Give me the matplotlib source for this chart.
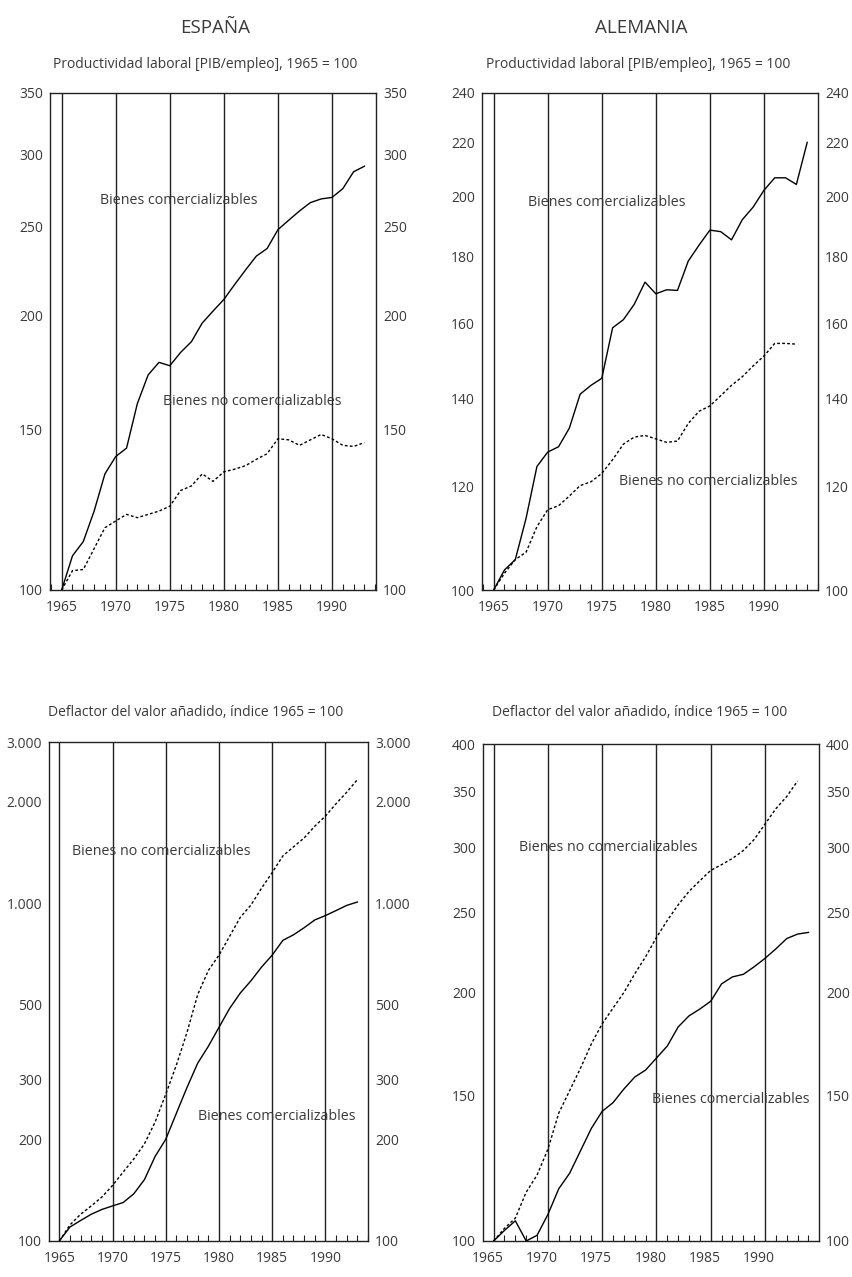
import matplotlib
matplotlib.use('Agg')
import matplotlib.pyplot as plt
from matplotlib.ticker import FixedLocator, FixedFormatter, MultipleLocator, NullFormatter
from matplotlib.transforms import ScaledTranslation

plt.rcParams['font.family'] = ['Open Sans', 'DejaVu Sans']

W, H = 853, 1277
TXT = '#3a3a3a'

years_es = list(range(1965, 1994))
years_de = list(range(1965, 1995))
years_de_nc = list(range(1965, 1994))

es_prod_com = [100, 109, 113, 122, 134, 140, 143, 160, 172, 177.5, 176, 182, 187, 196, 202,
               208, 216, 224, 232, 236.5, 248, 254, 260, 265.5, 268, 269, 275, 287, 291]
es_prod_nocom = [100, 105, 105.3, 111, 117, 119, 121, 120, 121, 122, 123.5, 128.5, 130, 134, 131.5,
                 134.7, 135.6, 136.8, 139, 141, 146.4, 146, 144, 146, 148, 146.4, 144, 143.6, 145]

de_prod_com = [100, 103.6, 105.5, 113.5, 124.3, 127.5, 128.7, 133, 141.2, 143.4, 145.2, 158.7, 161,
               165.4, 172, 168.5, 169.7, 169.5, 178.5, 183.6, 188.5, 188, 185.3, 192, 196.3, 202.2,
               206.7, 206.7, 204.3, 220]
de_prod_nocom = [100, 103, 105.5, 106.9, 111.8, 115.2, 116, 118, 120.2, 121, 122.8, 125.8, 129.3,
                 130.9, 131.3, 130.5, 129.7, 130, 134.1, 137, 138.3, 140.8, 143.4, 145.6, 148.4, 151,
                 154.4, 154.4, 154.2]

es_defl_com = [100, 110, 115, 120, 124, 127, 130, 138, 152, 178, 200, 239, 285, 336, 377, 429, 488,
               542, 589, 647, 702, 776, 806, 846, 892, 919, 951, 985, 1008]
es_defl_nocom = [100, 111.6, 120, 127, 135, 146, 160, 175, 194, 225, 272, 332, 415, 536, 632, 702,
                 798, 908, 987, 1108, 1232, 1380, 1468, 1560, 1690, 1810, 1970, 2130, 2320]

de_defl_com = [100, 103, 105.8, 100, 101.6, 107.7, 115.7, 120.8, 128.6, 136.9, 143.6, 147.1, 152.8,
               158, 161.1, 166.6, 172.3, 181.7, 187.4, 191, 195.2, 204.9, 208.9, 210.4, 214.9, 220,
               225.9, 232.5, 235.4, 236.5]
de_defl_nocom = [100, 103.6, 106.6, 114.6, 120.2, 129.2, 142.9, 152.1, 161.9, 173.3, 183.3, 191.5,
                 200, 210.7, 221, 233.2, 244.6, 255.4, 265.2, 273.2, 281.2, 285.7, 290.7, 297.2,
                 306.5, 320, 334, 345.5, 360.8]

xticks = [1965, 1970, 1975, 1980, 1985, 1990]

yt_es_prod = [100, 150, 200, 250, 300, 350]
yt_de_prod = [100, 120, 140, 160, 180, 200, 220, 240]
yt_es_defl = [100, 200, 300, 500, 1000, 2000, 3000]
yl_es_defl = ['100', '200', '300', '500', '1.000', '2.000', '3.000']
yt_de_defl = [100, 150, 200, 250, 300, 350, 400]

lbl_com = 'Bienes comercializables'
lbl_nocom = 'Bienes no comercializables'
sub_prod = 'Productividad laboral [PIB/empleo], 1965 = 100'
sub_defl = 'Deflactor del valor añadido, índice 1965 = 100'

fig = plt.figure(figsize=(W / 100, H / 100), dpi=100)


def make_ax(l, t, r, b, xlim, yticks, ylabels=None):
    ax = fig.add_axes([l / W, (H - b) / H, (r - l) / W, (b - t) / H])
    ax.set_yscale('log')
    ax.set_xlim(*xlim)
    ax.set_ylim(yticks[0], yticks[-1])
    ax.yaxis.set_major_locator(FixedLocator(yticks))
    ax.yaxis.set_major_formatter(FixedFormatter(ylabels or [str(v) for v in yticks]))
    ax.yaxis.set_minor_formatter(NullFormatter())
    ax.yaxis.set_minor_locator(FixedLocator([]))
    ax.set_xticks(xticks)
    ax.xaxis.set_minor_locator(MultipleLocator(1))
    ax.tick_params(axis='y', which='both', length=0, labelleft=True, labelright=True,
                   labelsize=10, labelcolor=TXT, pad=5)
    ax.tick_params(axis='x', which='major', length=0, labelsize=10, labelcolor=TXT, pad=7)
    ax.tick_params(axis='x', which='minor', direction='in', length=4, width=0.8, color='#222222',
                   top=False)
    for x in xticks:
        ax.axvline(x, color='#222222', lw=1.0, zorder=1)
    for s in ax.spines.values():
        s.set_color('#222222')
        s.set_linewidth(1.0)
    return ax


def draw(ax, x1, y1, x2, y2):
    ax.plot(x1, y1, color='black', lw=1.0, zorder=3)
    ax.plot(x2, y2, color='black', lw=1.0, linestyle=(0, (2, 1.6)), zorder=3)


# España, productividad
ax1 = make_ax(50, 93, 376, 590, (1963.92, 1994.07), yt_es_prod)
draw(ax1, years_es, es_prod_com, years_es, es_prod_nocom)
ax1.text(1968.55, 267, lbl_com, fontsize=10.3, color=TXT, va='center')
ax1.text(1974.35, 161, lbl_nocom, fontsize=10.3, color=TXT, va='center')

# Alemania, productividad
ax2 = make_ax(482, 93, 818, 590, (1963.92, 1995.0), yt_de_prod)
draw(ax2, years_de, de_prod_com, years_de_nc, de_prod_nocom)
ax2.text(1968.17, 198, lbl_com, fontsize=10.3, color=TXT, va='center')
ax2.text(1976.6, 121, lbl_nocom, fontsize=10.3, color=TXT, va='center')

# España, deflactor
ax3 = make_ax(49, 742, 368, 1241, (1964.03, 1994.0), yt_es_defl, yl_es_defl)
draw(ax3, years_es, es_defl_com, years_es, es_defl_nocom)
ax3.text(1966.2, 1420, lbl_nocom, fontsize=10.3, color=TXT, va='center')
ax3.text(1978.0, 233, lbl_com, fontsize=10.3, color=TXT, va='center')

# Alemania, deflactor
ax4 = make_ax(483, 744, 819, 1241, (1964.02, 1994.97), yt_de_defl)
draw(ax4, years_de, de_defl_com, years_de_nc, de_defl_nocom)
ax4.text(1967.3, 300, lbl_nocom, fontsize=10.3, color=TXT, va='center')
ax4.text(1979.55, 148.5, lbl_com, fontsize=10.3, color=TXT, va='center')
# in this panel the year labels sit a little left of the grid lines
shift = ScaledTranslation(-6 / 100, 0, fig.dpi_scale_trans)
for lab in ax4.get_xticklabels():
    lab.set_transform(lab.get_transform() + shift)

fig.text(215 / W, 1 - 28 / H, 'ESPAÑA', fontsize=13.5, color=TXT, ha='center', va='center')
fig.text(641 / W, 1 - 28 / H, 'ALEMANIA', fontsize=13.5, color=TXT, ha='center', va='center')
fig.text(205 / W, 1 - 65 / H, sub_prod, fontsize=10, color=TXT, ha='center', va='center')
fig.text(638 / W, 1 - 65 / H, sub_prod, fontsize=10, color=TXT, ha='center', va='center')
fig.text(196 / W, 1 - 713 / H, sub_defl, fontsize=10, color=TXT, ha='center', va='center')
fig.text(640 / W, 1 - 713 / H, sub_defl, fontsize=10, color=TXT, ha='center', va='center')

fig.savefig('out.png', dpi=100)
